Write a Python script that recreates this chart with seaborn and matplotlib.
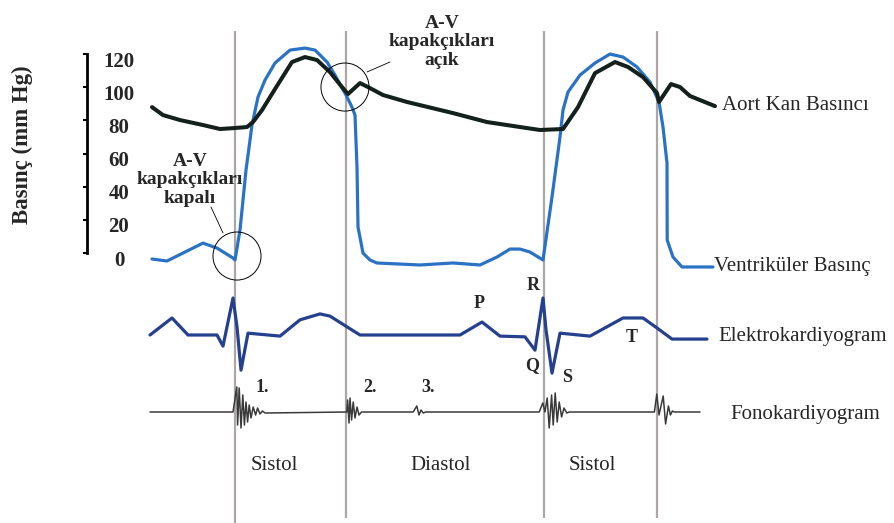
import matplotlib
matplotlib.use("Agg")
import matplotlib.pyplot as plt
import matplotlib.transforms as mtransforms
from matplotlib.lines import Line2D
import seaborn as sns

# ---------------- data ----------------
# time axis in ms
aort_t = [5, 32.5, 75, 132.5, 175, 212.5, 242.5, 257.5, 280, 312.5, 355, 387.5, 417.5,
          450, 480, 495, 525, 545, 582.5, 642.5, 757.5, 842.5, 925, 975, 1032.5, 1070,
          1112.5, 1162.5, 1195, 1232.5, 1267.5, 1272.5, 1302.5, 1325, 1350, 1412.5]
aort_p = [88.0, 83.2, 80.2, 77.2, 74.8, 75.4, 76.0, 79.0, 86.2, 98.9, 115.2, 118.2, 116.4,
          109.1, 100.1, 95.9, 102.5, 100.1, 95.3, 91.1, 84.4, 79.0, 76.0, 74.2, 74.8, 88.0,
          108.5, 115.2, 112.2, 106.1, 96.5, 91.1, 101.9, 100.1, 94.7, 88.6]

vent_t = [5, 42.5, 82.5, 132.5, 167.5, 207.5, 212.5, 225, 240, 255, 270, 287.5, 312.5,
          350, 387.5, 412.5, 442.5, 462.5, 490, 505, 512.5, 517.5, 520, 532.5, 550, 567.5,
          675, 757.5, 825, 867.5, 900, 925, 950, 982.5, 1005, 1025, 1032.5, 1045, 1075,
          1112.5, 1150, 1182.5, 1217.5, 1250, 1272.5, 1282.5, 1292.5, 1293, 1307.5, 1330,
          1407.5]
vent_p = [-3.6, -4.8, 0.0, 6.0, 3.0, -3.0, -4.2, 13.9, 50.0, 77.2, 94.1, 104.3, 114.6,
          122.4, 123.6, 122.4, 115.2, 107.3, 95.3, 88.0, 83.2, 51.9, 15.7, 0.0, -4.2, -6.0,
          -7.2, -6.0, -7.2, -2.4, 2.4, 2.4, 0.6, -4.2, 33.8, 70.0, 86.2, 97.1, 107.3,
          114.6, 120.0, 118.2, 112.2, 103.1, 91.1, 76.0, 54.3, 7.8, -2.4, -8.4,
          -8.4]

ecg_t = [0, 55, 95, 167.5, 182.5, 207.5, 217.5, 227.5, 245, 325, 375, 425, 450, 492.5,
         525, 775, 830, 875, 937.5, 962.5, 982.5, 990, 1005, 1025, 1100, 1182.5, 1232.5,
         1267.5, 1305, 1392.5]
ecg_mv = [0, 0.46, 0, 0, -0.30, 1.0, 0.22, -0.95, 0.05, -0.03, 0.41, 0.57, 0.51, 0.22,
          0, 0, 0.35, -0.03, -0.05, -0.41, 1.0, 0.14, -1.03, 0.05, -0.03, 0.46, 0.46,
          0.19, -0.11, -0.11]

pcg_t = [0, 207.5, 217, 219, 223, 227.5, 232, 236, 240, 244, 248, 252.5, 258, 264, 269,
         275, 281, 287.5,
         492, 494, 497.5, 500, 504, 508, 512.5, 517.5, 522.5, 529,
         658, 667, 672.5, 677.5, 683, 689,
         973, 982, 987.5, 993, 998, 1004, 1008, 1013, 1018, 1023, 1029, 1035, 1042, 1048,
         1261, 1267, 1272.5, 1283, 1289, 1296, 1301, 1306, 1311, 1375]
pcg_a = [0, 0, 2.5, -1.3, 2.4, -1.6, 1.7, -1.3, 1.0, -1.0, 0.7, -0.6, 0.5, -0.3, 0.4,
         -0.2, 0.1, -0.1,
         0, 1.2, -1.1, 1.4, -0.8, 1.0, -0.6, 0.5, -0.3, 0,
         0, 0.6, -0.3, 0.2, -0.1, 0,
         0, 0.9, 0, 1.4, -1.6, 1.7, -1.3, 1.9, -1.0, 1.0, -0.5, 0.4, -0.1, 0,
         0, 1.8, -0.3, 1.6, -1.2, 0.6, -0.3, 0.1, 0, 0]

# valve events (vertical markers) and valve circles
event_t = [212.5, 490, 986, 1268]
valve_t = [217.5, 487.5]
valve_p = [-1.8, 100.1]

pressure_ticks = [0, 20, 40, 60, 80, 100, 120]

# ---------------- style ----------------
sns.set_theme(style="white")
plt.rcParams["font.family"] = ["Liberation Serif", "DejaVu Serif"]
plt.rcParams["lines.solid_joinstyle"] = "round"
plt.rcParams["lines.solid_capstyle"] = "round"

W, H = 894, 523
fig = plt.figure(figsize=(W / 100, H / 100), dpi=100)
fig.patch.set_facecolor("white")


def fx(x):
    return x / W


def fy(y):
    return 1 - y / H


XLIM = (-375, 1860)
P_LIM = (-162.8, 152.6)

ax = fig.add_axes([0, 0, 1, 1])
ax.set_xlim(*XLIM)
ax.set_ylim(*P_LIM)
ax.axis("off")

ax_ecg = fig.add_axes([0, 0, 1, 1], sharex=ax)
ax_ecg.set_ylim(-5.081, 9.054)
ax_ecg.axis("off")
ax_ecg.patch.set_alpha(0)

ax_pcg = fig.add_axes([0, 0, 1, 1], sharex=ax)
ax_pcg.set_ylim(-11.1, 41.2)
ax_pcg.axis("off")
ax_pcg.patch.set_alpha(0)

# vertical event lines
for i, t in enumerate(event_t):
    ax.axvline(t, ymin=0.0 if i == 0 else 0.0096, ymax=0.9407,
               color="#aca7a5", lw=1.6, zorder=1, solid_capstyle="butt")

# pressure traces
sns.lineplot(x=vent_t, y=vent_p, ax=ax, sort=False, estimator=None,
             color="#2a72c6", lw=2.3, zorder=3)
sns.lineplot(x=aort_t, y=aort_p, ax=ax, sort=False, estimator=None,
             color="#14201b", lw=2.9, zorder=4)

# ECG and phonocardiogram
sns.lineplot(x=ecg_t, y=ecg_mv, ax=ax_ecg, sort=False, estimator=None,
             color="#24408e", lw=2.3)
sns.lineplot(x=pcg_t, y=pcg_a, ax=ax_pcg, sort=False, estimator=None,
             color="#3a3a3a", lw=1.1)

# valve circles
ax.scatter(valve_t, valve_p, s=34.6 ** 2, facecolors="none", edgecolors="black",
           linewidths=0.7, zorder=5)

# pressure scale
ax_s = fig.add_axes([0, 0, 1, 1])
ax_s.set_xlim(0, W)
ax_s.set_ylim(*P_LIM)
ax_s.patch.set_alpha(0)
for s in ["top", "bottom"]:
    ax_s.spines[s].set_visible(False)
ax_s.spines["left"].set_position(("data", 87))
ax_s.spines["right"].set_position(("data", 87))
ax_s.spines["right"].set_visible(False)
ax_s.spines["left"].set_bounds(0, 120)
ax_s.spines["left"].set_color("black")
ax_s.spines["left"].set_linewidth(2.0)
ax_s.set_xticks([])
ax_s.set_yticks(pressure_ticks)
ax_s.set_yticklabels([str(v) for v in pressure_ticks])
ax_s.tick_params(axis="y", left=True, right=False, labelleft=False, labelright=True,
                 direction="out", length=3, width=1.5, color="black", pad=20,
                 labelsize=15)
shift = mtransforms.ScaledTranslation(0, -5 / 100, fig.dpi_scale_trans)
for tick in ax_s.yaxis.get_major_ticks():
    tick.label2.set_horizontalalignment("center")
    tick.label2.set_fontweight("bold")
    tick.label2.set_transform(tick.label2.get_transform() + shift)

fig.text(fx(22), fy(145), "Basınç (mm Hg)", rotation=90, ha="center", va="center",
         fontsize=16.5, fontweight="bold")

# trace names
fig.text(fx(722), fy(106), "Aort Kan Basıncı", ha="left", va="center", fontsize=15)
fig.text(fx(714), fy(267), "Ventriküler Basınç", ha="left", va="center", fontsize=15)
fig.text(fx(718), fy(337), "Elektrokardiyogram", ha="left", va="center", fontsize=15)
fig.text(fx(730), fy(414), "Fonokardiyogram", ha="left", va="center", fontsize=15)

# phases
fig.text(fx(274), fy(466), "Sistol", ha="center", va="center", fontsize=15)
fig.text(fx(441), fy(466), "Diastol", ha="center", va="center", fontsize=15)
fig.text(fx(592), fy(466), "Sistol", ha="center", va="center", fontsize=15)

# valve annotations
fig.text(fx(190), fy(180), "A-V\nkapakçıkları\nkapalı", ha="center", va="center",
         fontsize=14, fontweight="bold", linespacing=1.1)
fig.text(fx(442), fy(42), "A-V\nkapakçıkları\naçık", ha="center", va="center",
         fontsize=14, fontweight="bold", linespacing=1.1)
fig.add_artist(Line2D([fx(211), fx(223)], [fy(207), fy(233)], color="black", lw=0.6))
fig.add_artist(Line2D([fx(367), fx(390)], [fy(72), fy(62)], color="black", lw=0.6))

# ECG wave letters
for lbl, x, y in [("P", 479, 304), ("R", 533, 285), ("Q", 532, 366),
                  ("S", 567, 378), ("T", 632, 338)]:
    fig.text(fx(x), fy(y), lbl, ha="center", va="center", fontsize=13, fontweight="bold")

# heart sounds
for lbl, x in [("1.", 262), ("2.", 370), ("3.", 428)]:
    fig.text(fx(x), fy(387), lbl, ha="center", va="center", fontsize=13, fontweight="bold")

fig.savefig("out.png", dpi=100, facecolor="white")
